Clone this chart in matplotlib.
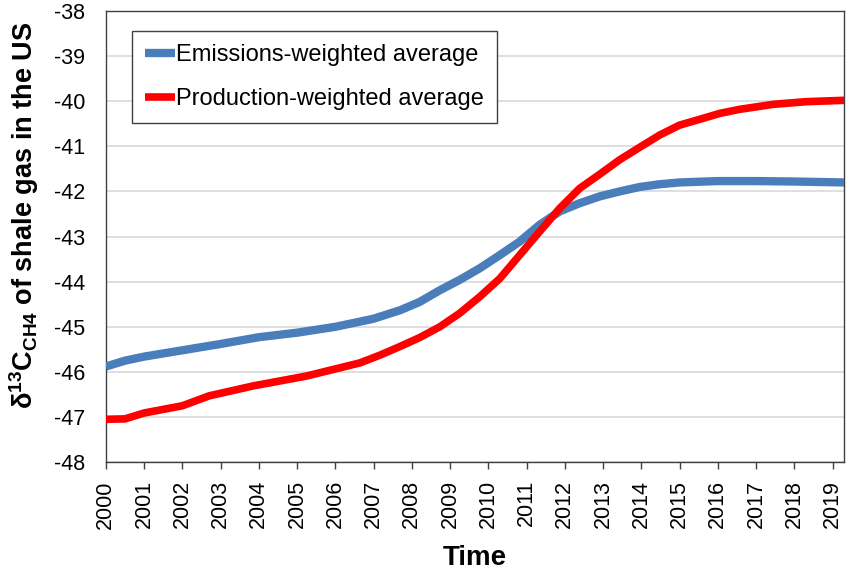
import numpy as np
import matplotlib
matplotlib.use("Agg")
import matplotlib.pyplot as plt

plt.rcParams['font.family'] = ['Liberation Sans', 'DejaVu Sans']
plt.rcParams['mathtext.fontset'] = 'custom'
plt.rcParams['mathtext.rm'] = 'Liberation Sans'
plt.rcParams['mathtext.bf'] = 'Liberation Sans:bold'

# data
emis_years = [2000, 2000.5, 2001, 2002, 2003, 2004, 2005, 2006, 2007, 2007.7, 2008.2,
              2008.73, 2009.25, 2009.78, 2010.3, 2010.82, 2011.34, 2011.87, 2012.39,
              2012.91, 2013.43, 2013.96, 2014.48, 2015, 2016, 2017, 2018, 2019.3]
emis_vals = [-45.88, -45.75, -45.66, -45.52, -45.38, -45.23, -45.13, -45.0, -44.82, -44.63,
             -44.45, -44.19, -43.96, -43.70, -43.41, -43.11, -42.74, -42.44, -42.26,
             -42.11, -42.0, -41.9, -41.84, -41.8, -41.77, -41.77, -41.78, -41.8]

prod_years = [2000, 2000.5, 2001, 2002, 2002.7, 2003.85, 2005.25, 2006.64, 2007.16, 2007.68,
              2008.2, 2008.73, 2009.25, 2009.78, 2010.3, 2010.82, 2011.34, 2011.87,
              2012.39, 2012.91, 2013.43, 2013.96, 2014.48, 2015, 2015.53, 2016.05,
              2016.57, 2017.44, 2018.31, 2019.3]
prod_vals = [-47.05, -47.04, -46.91, -46.75, -46.53, -46.31, -46.09, -45.8, -45.63, -45.44,
             -45.24, -45.0, -44.70, -44.33, -43.93, -43.41, -42.89, -42.37,
             -41.93, -41.62, -41.3, -41.02, -40.75, -40.53, -40.4, -40.27,
             -40.18, -40.07, -40.01, -39.98]

xticks = list(range(2000, 2020))
yticks = list(range(-48, -37))

fig = plt.figure(figsize=(8.47, 5.72), dpi=100)
ax = fig.add_axes([0.125, 0.192, 0.8715, 0.7888])

ax.plot(emis_years, emis_vals, color='#4a7ebb', linewidth=6, solid_capstyle='butt',
        solid_joinstyle='round', label='Emissions-weighted average', zorder=3)
ax.plot(prod_years, prod_vals, color='#ff0000', linewidth=5.5, solid_capstyle='butt',
        solid_joinstyle='round', label='Production-weighted average', zorder=3)

ax.set_xlim(2000, 2019.3)
ax.set_ylim(-48, -38)
ax.set_xticks(xticks)
ax.set_xticklabels([str(y) for y in xticks], rotation=90, fontsize=15.5)
ax.set_yticks(yticks)
ax.set_yticklabels([str(y) for y in yticks], fontsize=15.5)
ax.tick_params(axis='x', direction='out', length=5, width=1, color='#404040', pad=8)
ax.tick_params(axis='y', length=0, pad=15)
ax.grid(axis='y', color='#d9d9d9', linewidth=1.2, zorder=0)
ax.set_axisbelow(True)
for s in ax.spines.values():
    s.set_color('#404040')
    s.set_linewidth(1)

ax.set_xlabel('Time', fontsize=20, fontweight='bold', labelpad=12)
ax.set_ylabel(r'$\mathbf{\delta^{13}C_{CH4}}$ of shale gas in the US', fontsize=19.5,
              fontweight='bold')
ax.yaxis.set_label_coords(-0.088, 0.548)

leg = ax.legend(loc='upper left', bbox_to_anchor=(0.035, 0.956), borderaxespad=0,
                fontsize=17, handlelength=1.27, handletextpad=0.05, labelspacing=0.95,
                fancybox=False, edgecolor='#404040', framealpha=1, borderpad=0.55)
leg.get_frame().set_linewidth(1)

fig.savefig('out.png', dpi=100)
